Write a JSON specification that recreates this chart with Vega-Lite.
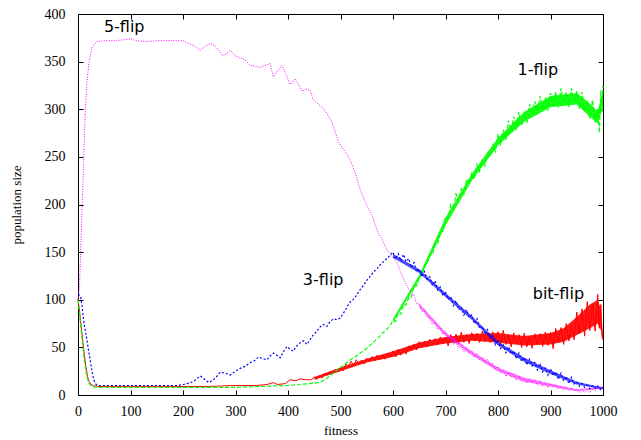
{
  "$schema": "https://vega.github.io/schema/vega-lite/v6.json",
  "width": 525,
  "height": 381,
  "autosize": {"type": "none"},
  "padding": {"left": 78, "top": 14, "right": 38, "bottom": 45},
  "background": "white",
  "config": {
    "view": {"stroke": "#000", "strokeWidth": 1},
    "axis": {"domain": false, "grid": false, "ticks": true, "tickSize": -5, "tickColor": "#000", "tickWidth": 1,
      "labelFont": "Liberation Serif", "labelFontSize": 14, "labelColor": "#000", "labelPadding": 14, "format": "d", "labelFlush": false, "labelOverlap": false,
      "titleFont": "Liberation Serif", "titleFontSize": 13, "titleFontWeight": "normal", "titleColor": "#000"}
  },
  "datasets": {
    "flip5": [
      {"fitness":0,"size":100},{"fitness":3,"size":115},{"fitness":5,"size":150},{"fitness":7,"size":185},{"fitness":8,"size":200},{"fitness":11,"size":250},{"fitness":14,"size":300},{"fitness":17,"size":328},{"fitness":21,"size":350},{"fitness":27,"size":365},{"fitness":36,"size":371},{"fitness":50,"size":372},{"fitness":70,"size":372},{"fitness":90,"size":373},{"fitness":100,"size":374},{"fitness":110,"size":372},{"fitness":130,"size":371},{"fitness":150,"size":372},{"fitness":170,"size":372},{"fitness":190,"size":372},{"fitness":200,"size":372},{"fitness":210,"size":369},{"fitness":220,"size":367},{"fitness":233,"size":362},{"fitness":242,"size":366},{"fitness":252,"size":369},{"fitness":262,"size":366},{"fitness":277,"size":356},{"fitness":284,"size":359},{"fitness":290,"size":362},{"fitness":300,"size":356},{"fitness":309,"size":354},{"fitness":318,"size":352},{"fitness":328,"size":346},{"fitness":338,"size":345},{"fitness":347,"size":344},{"fitness":356,"size":346},{"fitness":366,"size":348},{"fitness":372,"size":334},{"fitness":380,"size":340},{"fitness":389,"size":346},{"fitness":395,"size":338},{"fitness":404,"size":326},{"fitness":414,"size":332},{"fitness":420,"size":326},{"fitness":427,"size":319},{"fitness":434,"size":321},{"fitness":442,"size":320},{"fitness":448,"size":310},{"fitness":456,"size":306},{"fitness":465,"size":302},{"fitness":474,"size":296},{"fitness":484,"size":286},{"fitness":490,"size":276},{"fitness":496,"size":266},{"fitness":503,"size":260},{"fitness":508,"size":256},{"fitness":513,"size":252},{"fitness":518,"size":247},{"fitness":522,"size":242},{"fitness":528,"size":233},{"fitness":533,"size":224},{"fitness":538,"size":215},{"fitness":543,"size":208},{"fitness":551,"size":198},{"fitness":556,"size":193},{"fitness":560,"size":189},{"fitness":566,"size":179},{"fitness":572,"size":170},{"fitness":578,"size":165},{"fitness":585,"size":156},{"fitness":592,"size":150},{"fitness":600,"size":144},{"fitness":608,"size":139},{"fitness":614,"size":130},{"fitness":620,"size":122},{"fitness":627,"size":114},{"fitness":634,"size":108},
      {"fitness":640,"size":105},{"fitness":645,"size":95.6},{"fitness":650,"size":95.8},{"fitness":655,"size":87.5},{"fitness":660,"size":89.7},{"fitness":665,"size":81.5},{"fitness":670,"size":81.4},{"fitness":675,"size":73.8},{"fitness":680,"size":77},{"fitness":685,"size":69.1},{"fitness":690,"size":70.8},{"fitness":695,"size":63.5},{"fitness":700,"size":66.7},{"fitness":705,"size":59.5},{"fitness":710,"size":60.4},{"fitness":715,"size":52.8},{"fitness":720,"size":56},{"fitness":725,"size":49.1},{"fitness":730,"size":51.8},{"fitness":735,"size":45.5},{"fitness":740,"size":49.7},{"fitness":745,"size":44},{"fitness":750,"size":46.4},{"fitness":755,"size":39.8},{"fitness":760,"size":44},{"fitness":765,"size":37.1},{"fitness":770,"size":39.8},{"fitness":775,"size":33.5},{"fitness":780,"size":37.7},{"fitness":785,"size":31.5},{"fitness":790,"size":33.4},{"fitness":795,"size":26.3},{"fitness":800,"size":30},{"fitness":805,"size":23.1},{"fitness":810,"size":25.8},{"fitness":815,"size":19.5},{"fitness":820,"size":23.7},{"fitness":825,"size":18.5},{"fitness":830,"size":21.4},{"fitness":835,"size":15.3},{"fitness":840,"size":20},{"fitness":845,"size":14.1},{"fitness":850,"size":17.8},{"fitness":855,"size":12.5},{"fitness":860,"size":17.7},{"fitness":865,"size":13},{"fitness":870,"size":16.4},{"fitness":875,"size":10.3},{"fitness":880,"size":15},{"fitness":885,"size":9.1},{"fitness":890,"size":12.8},{"fitness":895,"size":7.5},{"fitness":900,"size":11.8},{"fitness":905,"size":8.5},{"fitness":910,"size":10.6},{"fitness":915,"size":6.2},{"fitness":920,"size":9},{"fitness":925,"size":5.2},{"fitness":930,"size":7.7},{"fitness":935,"size":4.2},{"fitness":940,"size":7.8},{"fitness":945,"size":4.5},{"fitness":950,"size":6.6},{"fitness":955,"size":2.7},{"fitness":960,"size":6},{"fitness":965,"size":2.4},{"fitness":970,"size":5.2},{"fitness":975,"size":2.5},{"fitness":980,"size":6.8},{"fitness":985,"size":4.5},{"fitness":990,"size":7.6},{"fitness":995,"size":5.2},{"fitness":1000,"size":8}
    ],
    "flip3": [
      {"fitness":0,"size":105},{"fitness":3,"size":105},{"fitness":5,"size":103},{"fitness":8,"size":92},{"fitness":10,"size":82},{"fitness":13,"size":70},{"fitness":17,"size":58},{"fitness":20,"size":47},{"fitness":24,"size":34},{"fitness":27,"size":24},{"fitness":30,"size":16},{"fitness":33,"size":12},{"fitness":36,"size":10.5},{"fitness":40,"size":10},{"fitness":70,"size":10},{"fitness":100,"size":10},{"fitness":130,"size":10},{"fitness":160,"size":10},{"fitness":190,"size":10},{"fitness":201,"size":11},{"fitness":208,"size":12},{"fitness":214,"size":13},{"fitness":222,"size":15},{"fitness":233,"size":20},{"fitness":240,"size":17},{"fitness":249,"size":13},{"fitness":258,"size":16},{"fitness":265,"size":20},{"fitness":271,"size":24},{"fitness":280,"size":23},{"fitness":290,"size":21},{"fitness":300,"size":25},{"fitness":309,"size":28},{"fitness":318,"size":30},{"fitness":328,"size":34},{"fitness":336,"size":36},{"fitness":344,"size":40},{"fitness":352,"size":38},{"fitness":360,"size":37},{"fitness":366,"size":41},{"fitness":372,"size":44},{"fitness":378,"size":42},{"fitness":385,"size":39},{"fitness":392,"size":46},{"fitness":398,"size":51},{"fitness":404,"size":48},{"fitness":410,"size":46},{"fitness":416,"size":51},{"fitness":423,"size":55},{"fitness":430,"size":57},{"fitness":436,"size":53},{"fitness":442,"size":58},{"fitness":448,"size":63},{"fitness":455,"size":67},{"fitness":460,"size":71},{"fitness":467,"size":74},{"fitness":474,"size":72},{"fitness":480,"size":77},{"fitness":487,"size":80},{"fitness":494,"size":79},{"fitness":500,"size":81},{"fitness":508,"size":88},{"fitness":513,"size":93},{"fitness":519,"size":98},{"fitness":526,"size":101},{"fitness":532,"size":106},{"fitness":538,"size":111},{"fitness":545,"size":116},{"fitness":551,"size":121},{"fitness":557,"size":125},{"fitness":563,"size":129},{"fitness":570,"size":133},{"fitness":576,"size":137},{"fitness":582,"size":140},{"fitness":588,"size":143},{"fitness":595,"size":147},
      {"fitness":600,"size":150},{"fitness":605,"size":142.8},{"fitness":610,"size":148.4},{"fitness":615,"size":141},{"fitness":620,"size":147.6},{"fitness":625,"size":140},{"fitness":630,"size":143.2},{"fitness":635,"size":133.9},{"fitness":640,"size":139},{"fitness":645,"size":129.3},{"fitness":650,"size":132.4},{"fitness":655,"size":124},{"fitness":660,"size":129.6},{"fitness":665,"size":121.5},{"fitness":670,"size":124.2},{"fitness":675,"size":114.9},{"fitness":680,"size":120},{"fitness":685,"size":110.3},{"fitness":690,"size":113.4},{"fitness":695,"size":104},{"fitness":700,"size":108.6},{"fitness":705,"size":100.5},{"fitness":710,"size":103.2},{"fitness":715,"size":93.9},{"fitness":720,"size":99},{"fitness":725,"size":89.3},{"fitness":730,"size":92.4},{"fitness":735,"size":84},{"fitness":740,"size":89.6},{"fitness":745,"size":81.5},{"fitness":750,"size":84.2},{"fitness":755,"size":74.9},{"fitness":760,"size":80},{"fitness":765,"size":69.8},{"fitness":770,"size":72.4},{"fitness":775,"size":63.5},{"fitness":780,"size":68.6},{"fitness":785,"size":60},{"fitness":790,"size":62.2},{"fitness":795,"size":52.9},{"fitness":800,"size":58},{"fitness":805,"size":48.8},{"fitness":810,"size":52.4},{"fitness":815,"size":44.5},{"fitness":820,"size":50.6},{"fitness":825,"size":43},{"fitness":830,"size":46.2},{"fitness":835,"size":37.9},{"fitness":840,"size":44},{"fitness":845,"size":35.3},{"fitness":850,"size":39.4},{"fitness":855,"size":31.5},{"fitness":860,"size":37.6},{"fitness":865,"size":30.5},{"fitness":870,"size":34.2},{"fitness":875,"size":26.4},{"fitness":880,"size":33},{"fitness":885,"size":24.3},{"fitness":890,"size":28.4},{"fitness":895,"size":21},{"fitness":900,"size":27.6},{"fitness":905,"size":20.5},{"fitness":910,"size":24.2},{"fitness":915,"size":16.4},{"fitness":920,"size":23},{"fitness":925,"size":14.8},{"fitness":930,"size":19.4},{"fitness":935,"size":12},{"fitness":940,"size":18.6},{"fitness":945,"size":11.5},{"fitness":950,"size":13.6},{"fitness":955,"size":9.2},{"fitness":960,"size":12},{"fitness":965,"size":7.9},{"fitness":970,"size":10.2},{"fitness":975,"size":6.5},{"fitness":980,"size":9.8},{"fitness":985,"size":7},{"fitness":990,"size":9.6},{"fitness":995,"size":5.7},{"fitness":1000,"size":7}
    ],
    "flip1": [
      {"fitness":0,"size":100},{"fitness":3,"size":85},{"fitness":6,"size":68},{"fitness":9,"size":52},{"fitness":12,"size":37},{"fitness":15,"size":25},{"fitness":18,"size":17},{"fitness":21,"size":12},{"fitness":25,"size":9.5},{"fitness":30,"size":8.5},{"fitness":40,"size":8},{"fitness":100,"size":8},{"fitness":150,"size":8},{"fitness":200,"size":8},{"fitness":250,"size":8},{"fitness":300,"size":8},{"fitness":350,"size":9},{"fitness":400,"size":10},{"fitness":423,"size":11},{"fitness":440,"size":12},{"fitness":460,"size":13},{"fitness":470,"size":16},{"fitness":480,"size":20},{"fitness":490,"size":25},{"fitness":500,"size":29},{"fitness":510,"size":33},{"fitness":519,"size":37},{"fitness":528,"size":40},{"fitness":538,"size":44},{"fitness":550,"size":49},{"fitness":562,"size":55},{"fitness":572,"size":60},{"fitness":582,"size":66},{"fitness":592,"size":71},
      {"fitness":600,"size":78},{"fitness":605,"size":77.1},{"fitness":610,"size":85.8},{"fitness":615,"size":85},{"fitness":620,"size":94.7},{"fitness":625,"size":94.5},{"fitness":630,"size":102.4},{"fitness":635,"size":102.8},{"fitness":640,"size":114},{"fitness":645,"size":114.6},{"fitness":650,"size":124.8},{"fitness":655,"size":125.5},{"fitness":660,"size":136.7},{"fitness":665,"size":138},{"fitness":670,"size":147.4},{"fitness":675,"size":147.3},{"fitness":680,"size":158},{"fitness":685,"size":159.1},{"fitness":690,"size":169.8},{"fitness":695,"size":172},{"fitness":700,"size":187.4},{"fitness":705,"size":185.5},{"fitness":710,"size":199.8},{"fitness":715,"size":194.6},{"fitness":720,"size":211},{"fitness":725,"size":204.2},{"fitness":730,"size":216.6},{"fitness":735,"size":211},{"fitness":740,"size":226.4},{"fitness":745,"size":221.5},{"fitness":750,"size":232.8},{"fitness":755,"size":226.6},{"fitness":760,"size":242},{"fitness":765,"size":234.7},{"fitness":770,"size":246.6},{"fitness":775,"size":240.5},{"fitness":780,"size":255.4},{"fitness":785,"size":250.5},{"fitness":790,"size":261.8},{"fitness":795,"size":255.6},{"fitness":800,"size":274},{"fitness":805,"size":261.8},{"fitness":810,"size":278.4},{"fitness":815,"size":267.5},{"fitness":820,"size":288.1},{"fitness":825,"size":278},{"fitness":830,"size":292.2},{"fitness":835,"size":278.4},{"fitness":840,"size":297},{"fitness":845,"size":282.8},{"fitness":850,"size":297.4},{"fitness":855,"size":285.5},{"fitness":860,"size":305.1},{"fitness":865,"size":294.5},{"fitness":870,"size":308.2},{"fitness":875,"size":294.9},{"fitness":880,"size":314},{"fitness":885,"size":298.8},{"fitness":890,"size":312.4},{"fitness":895,"size":298.5},{"fitness":900,"size":317},{"fitness":905,"size":304},{"fitness":910,"size":318},{"fitness":915,"size":302},{"fitness":920,"size":322},{"fitness":925,"size":304},{"fitness":930,"size":318},{"fitness":935,"size":302.5},{"fitness":940,"size":322},{"fitness":945,"size":307},{"fitness":950,"size":319},{"fitness":955,"size":300.5},{"fitness":960,"size":318},{"fitness":965,"size":297.5},{"fitness":970,"size":309},{"fitness":975,"size":290},{"fitness":980,"size":309.6},{"fitness":985,"size":286.5},{"fitness":990,"size":301.2},{"fitness":993,"size":275.4},{"fitness":996,"size":320},{"fitness":998,"size":296},{"fitness":1000,"size":325}
    ],
    "bitflip": [
      {"fitness":0,"size":100},{"fitness":3,"size":88},{"fitness":6,"size":72},{"fitness":9,"size":57},{"fitness":12,"size":42},{"fitness":15,"size":30},{"fitness":18,"size":20},{"fitness":21,"size":14},{"fitness":25,"size":11},{"fitness":30,"size":9.5},{"fitness":40,"size":9},{"fitness":100,"size":9},{"fitness":150,"size":9},{"fitness":200,"size":9},{"fitness":250,"size":9},{"fitness":300,"size":10},{"fitness":340,"size":10},{"fitness":360,"size":11},{"fitness":372,"size":13},{"fitness":380,"size":11},{"fitness":395,"size":12},{"fitness":404,"size":16},{"fitness":415,"size":15},{"fitness":423,"size":17},{"fitness":435,"size":16},{"fitness":445,"size":16},
      {"fitness":450,"size":19},{"fitness":455,"size":16.4},{"fitness":460,"size":20.2},{"fitness":465,"size":18},{"fitness":470,"size":22.8},{"fitness":475,"size":21},{"fitness":480,"size":24.6},{"fitness":485,"size":22.2},{"fitness":490,"size":27},{"fitness":495,"size":24.4},{"fitness":500,"size":28.8},{"fitness":505,"size":25.5},{"fitness":510,"size":32.7},{"fitness":515,"size":30},{"fitness":520,"size":35.4},{"fitness":525,"size":30.8},{"fitness":530,"size":37},{"fitness":535,"size":32.1},{"fitness":540,"size":36.8},{"fitness":545,"size":32.5},{"fitness":550,"size":38.7},{"fitness":555,"size":35.5},{"fitness":560,"size":40.4},{"fitness":565,"size":35.8},{"fitness":570,"size":42},{"fitness":575,"size":37.1},{"fitness":580,"size":41.8},{"fitness":585,"size":37.5},{"fitness":590,"size":43.7},{"fitness":595,"size":40.5},{"fitness":600,"size":46.2},{"fitness":605,"size":39.9},{"fitness":610,"size":48},{"fitness":615,"size":41.8},{"fitness":620,"size":48.4},{"fitness":625,"size":43},{"fitness":630,"size":51.6},{"fitness":635,"size":47},{"fitness":640,"size":53.2},{"fitness":645,"size":47.4},{"fitness":650,"size":56},{"fitness":655,"size":49.8},{"fitness":660,"size":56.4},{"fitness":665,"size":50.5},{"fitness":670,"size":58.6},{"fitness":675,"size":53.5},{"fitness":680,"size":59.2},{"fitness":685,"size":52.9},{"fitness":690,"size":61},{"fitness":695,"size":53.8},{"fitness":700,"size":60.6},{"fitness":705,"size":51.5},{"fitness":710,"size":63.4},{"fitness":715,"size":55.5},{"fitness":720,"size":63.8},{"fitness":725,"size":54.1},{"fitness":730,"size":66},{"fitness":735,"size":55.2},{"fitness":740,"size":63.6},{"fitness":745,"size":54},{"fitness":750,"size":65.4},{"fitness":755,"size":57},{"fitness":760,"size":64.8},{"fitness":765,"size":55.1},{"fitness":770,"size":67},{"fitness":775,"size":56.2},{"fitness":780,"size":64.6},{"fitness":785,"size":55},{"fitness":790,"size":66.4},{"fitness":795,"size":57.5},{"fitness":800,"size":66.4},{"fitness":805,"size":52.8},{"fitness":810,"size":68},{"fitness":815,"size":53.1},{"fitness":820,"size":63.8},{"fitness":825,"size":50.5},{"fitness":830,"size":65.2},{"fitness":835,"size":53.5},{"fitness":840,"size":63.4},{"fitness":845,"size":49.8},{"fitness":850,"size":65},{"fitness":855,"size":50.6},{"fitness":860,"size":61.8},{"fitness":865,"size":49},{"fitness":870,"size":64.2},{"fitness":875,"size":53.5},{"fitness":880,"size":64.4},{"fitness":885,"size":50.8},{"fitness":890,"size":66},{"fitness":895,"size":52.1},{"fitness":900,"size":65.6},{"fitness":905,"size":48.5},{"fitness":910,"size":69.9},{"fitness":915,"size":55.5},{"fitness":920,"size":70.8},{"fitness":925,"size":53.1},{"fitness":930,"size":75},{"fitness":935,"size":56.7},{"fitness":940,"size":73.6},{"fitness":945,"size":58},{"fitness":950,"size":87.2},{"fitness":955,"size":64.5},{"fitness":960,"size":90.4},{"fitness":965,"size":61.8},{"fitness":970,"size":98},{"fitness":975,"size":67.6},{"fitness":980,"size":94.8},{"fitness":985,"size":67},{"fitness":990,"size":105.8},{"fitness":993,"size":70},{"fitness":996,"size":95},{"fitness":998,"size":62},{"fitness":1000,"size":58}
    ],
    "bands": [
      {"series":"bit-flip","fitness":450,"lo":16,"hi":19},{"series":"bit-flip","fitness":500,"lo":25,"hi":29},{"series":"bit-flip","fitness":550,"lo":34,"hi":38},{"series":"bit-flip","fitness":600,"lo":40,"hi":46},{"series":"bit-flip","fitness":650,"lo":49,"hi":55},{"series":"bit-flip","fitness":700,"lo":54,"hi":61},{"series":"bit-flip","fitness":750,"lo":57,"hi":64},{"series":"bit-flip","fitness":800,"lo":55,"hi":65},{"series":"bit-flip","fitness":850,"lo":52,"hi":62},{"series":"bit-flip","fitness":900,"lo":53,"hi":65},{"series":"bit-flip","fitness":925,"lo":56,"hi":70},{"series":"bit-flip","fitness":950,"lo":63,"hi":82},{"series":"bit-flip","fitness":975,"lo":70,"hi":95},{"series":"bit-flip","fitness":990,"lo":75,"hi":100},{"series":"bit-flip","fitness":996,"lo":68,"hi":90},{"series":"bit-flip","fitness":1000,"lo":58,"hi":62},
      {"series":"1-flip","fitness":600,"lo":76,"hi":80},{"series":"1-flip","fitness":650,"lo":121,"hi":126},{"series":"1-flip","fitness":700,"lo":178,"hi":186},{"series":"1-flip","fitness":750,"lo":225,"hi":232},{"series":"1-flip","fitness":800,"lo":262,"hi":270},{"series":"1-flip","fitness":850,"lo":287,"hi":297},{"series":"1-flip","fitness":900,"lo":302,"hi":314},{"series":"1-flip","fitness":950,"lo":305,"hi":317},{"series":"1-flip","fitness":975,"lo":292,"hi":306},{"series":"1-flip","fitness":990,"lo":285,"hi":298},{"series":"1-flip","fitness":1000,"lo":302,"hi":320},
      {"series":"3-flip","fitness":600,"lo":144,"hi":148},{"series":"3-flip","fitness":650,"lo":128,"hi":132},{"series":"3-flip","fitness":700,"lo":103,"hi":107},{"series":"3-flip","fitness":750,"lo":79,"hi":83},{"series":"3-flip","fitness":800,"lo":52,"hi":56},{"series":"3-flip","fitness":850,"lo":35,"hi":39},{"series":"3-flip","fitness":900,"lo":22,"hi":26},{"series":"3-flip","fitness":950,"lo":11,"hi":14},{"series":"3-flip","fitness":1000,"lo":6,"hi":8},
      {"series":"5-flip","fitness":650,"lo":92,"hi":96},{"series":"5-flip","fitness":700,"lo":62,"hi":66},{"series":"5-flip","fitness":750,"lo":42,"hi":46},{"series":"5-flip","fitness":800,"lo":25,"hi":29},{"series":"5-flip","fitness":850,"lo":14,"hi":18},{"series":"5-flip","fitness":900,"lo":9,"hi":12},{"series":"5-flip","fitness":950,"lo":4,"hi":6},{"series":"5-flip","fitness":1000,"lo":7,"hi":9}
    ],
    "labels": [
      {"label":"5-flip","fitness":88,"size":386},
      {"label":"1-flip","fitness":876,"size":341},
      {"label":"3-flip","fitness":467,"size":121},
      {"label":"bit-flip","fitness":915,"size":106}
    ]
  },
  "layer": [
    {
      "encoding": {
        "x": {"field": "fitness", "type": "quantitative", "scale": {"domain": [0, 1000], "nice": false, "zero": false}, "axis": {"orient": "bottom", "values": [0,100,200,300,400,500,600,700,800,900,1000], "title": "fitness", "titlePadding": 6}},
        "y": {"field": "size", "type": "quantitative", "scale": {"domain": [0, 400], "nice": false}, "axis": {"orient": "left", "values": [0,50,100,150,200,250,300,350,400], "title": "population size", "labelPadding": 18, "titlePadding": 21}}
      },
      "layer": [
        {"data": {"name": "bands"}, "transform": [{"filter": "datum.series == 'bit-flip'"}], "mark": {"type": "area", "color": "#ff0000", "opacity": 0.9},
         "encoding": {"y": {"field": "lo", "type": "quantitative", "title": "population size", "axis": {"orient": "left", "values": [0,50,100,150,200,250,300,350,400], "title": "population size", "labelPadding": 18, "titlePadding": 21}}, "y2": {"field": "hi"}}},
        {"data": {"name": "bitflip"}, "mark": {"type": "line", "color": "#ff0000", "strokeWidth": 1}},
        {"data": {"name": "bands"}, "transform": [{"filter": "datum.series == '1-flip'"}], "mark": {"type": "area", "color": "#00ff00", "opacity": 0.9},
         "encoding": {"y": {"field": "lo", "type": "quantitative", "title": "population size", "axis": {"orient": "left", "values": [0,50,100,150,200,250,300,350,400], "title": "population size", "labelPadding": 18, "titlePadding": 21}}, "y2": {"field": "hi"}}},
        {"data": {"name": "flip1"}, "mark": {"type": "line", "color": "#00ff00", "strokeWidth": 1.2, "strokeDash": [4, 2]}},
        {"data": {"name": "bands"}, "transform": [{"filter": "datum.series == '5-flip'"}], "mark": {"type": "area", "color": "#ff00ff", "opacity": 0.55},
         "encoding": {"y": {"field": "lo", "type": "quantitative", "title": "population size", "axis": {"orient": "left", "values": [0,50,100,150,200,250,300,350,400], "title": "population size", "labelPadding": 18, "titlePadding": 21}}, "y2": {"field": "hi"}}},
        {"data": {"name": "flip5"}, "mark": {"type": "line", "color": "#ff00ff", "strokeWidth": 1, "strokeDash": [1, 1.5]}},
        {"data": {"name": "bands"}, "transform": [{"filter": "datum.series == '3-flip'"}], "mark": {"type": "area", "color": "#0000ff", "opacity": 0.7},
         "encoding": {"y": {"field": "lo", "type": "quantitative", "title": "population size", "axis": {"orient": "left", "values": [0,50,100,150,200,250,300,350,400], "title": "population size", "labelPadding": 18, "titlePadding": 21}}, "y2": {"field": "hi"}}},
        {"data": {"name": "flip3"}, "mark": {"type": "line", "color": "#0000ff", "strokeWidth": 1.2, "strokeDash": [2, 2]}}
      ]
    },
    {
      "data": {"name": "labels"},
      "mark": {"type": "text", "font": "DejaVu Sans", "fontSize": 16, "color": "#000", "align": "center", "baseline": "middle"},
      "encoding": {
        "x": {"field": "fitness", "type": "quantitative", "axis": {"orient": "top", "labels": false, "title": null, "values": [0,100,200,300,400,500,600,700,800,900,1000]}},
        "y": {"field": "size", "type": "quantitative", "axis": {"orient": "right", "labels": false, "title": null, "values": [0,50,100,150,200,250,300,350,400]}},
        "text": {"field": "label"}
      }
    }
  ],
  "resolve": {"axis": {"x": "independent", "y": "independent"}}
}
